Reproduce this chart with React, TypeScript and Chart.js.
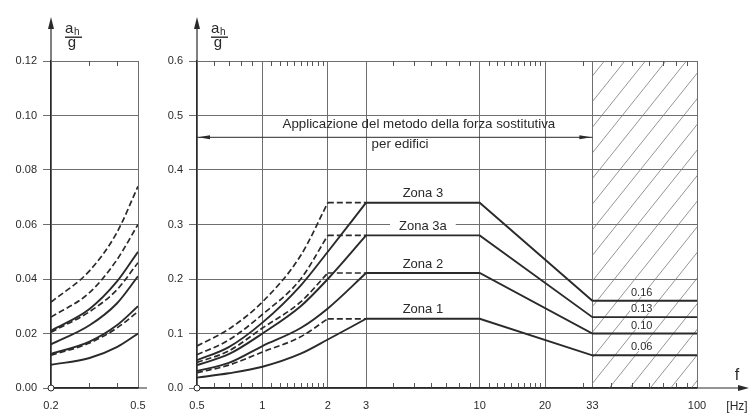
import React, { useEffect, useRef } from "react";
import { Chart, registerables } from "chart.js";
Chart.register(...registerables);

// ---------------- data ----------------
// left panel (0.2 – 0.5 Hz)
const LEFT_FREQ = [0.2, 0.3, 0.4, 0.5];
const LEFT_ZONA3_DASH = [0.0315, 0.043, 0.057, 0.074];
const LEFT_ZONA3A_DASH = [0.026, 0.035, 0.047, 0.06];
const LEFT_ZONA3_SOLID = [0.021, 0.029, 0.039, 0.05];
const LEFT_ZONA2_DASH = [0.0205, 0.028, 0.036, 0.046];
const LEFT_ZONA3A_SOLID = [0.016, 0.023, 0.031, 0.041];
const LEFT_ZONA2_SOLID = [0.0125, 0.017, 0.023, 0.03];
const LEFT_ZONA1_DASH = [0.012, 0.0165, 0.022, 0.028];
const LEFT_ZONA1_SOLID = [0.0085, 0.011, 0.015, 0.02];

// right panel (0.5 – 100 Hz)
const RISE_FREQ_SOLID = [0.5, 0.7, 1, 1.5, 2, 3];
const RISE_FREQ_DASH = [0.5, 0.7, 1, 1.5, 2];
const ZONA3_SOLID = [0.051, 0.075, 0.12, 0.188, 0.25, 0.34];
const ZONA3A_SOLID = [0.042, 0.062, 0.1, 0.15, 0.2, 0.28];
const ZONA2_SOLID = [0.031, 0.046, 0.077, 0.11, 0.146, 0.211];
const ZONA1_SOLID = [0.019, 0.027, 0.039, 0.063, 0.089, 0.127];
const ZONA3_DASH = [0.077, 0.108, 0.158, 0.243, 0.34];
const ZONA3A_DASH = [0.061, 0.088, 0.135, 0.2, 0.28];
const ZONA2_DASH = [0.047, 0.068, 0.11, 0.158, 0.211];
const ZONA1_DASH = [0.028, 0.042, 0.066, 0.094, 0.127];

const PLATEAU_FREQ = [3, 10, 33, 100];
const DASH_FLAT_FREQ = [2, 3];
const ZONE_NAMES = ["Zona 3", "Zona 3a", "Zona 2", "Zona 1"];
const ZONE_PLATEAU = [0.34, 0.28, 0.211, 0.127];
const ZONE_HIGH = [0.16, 0.13, 0.1, 0.06];
const ZONE_HIGH_LABELS = ["0.16", "0.13", "0.10", "0.06"];

// ticks
const LEFT_Y_TICKS = [0, 0.02, 0.04, 0.06, 0.08, 0.1, 0.12];
const RIGHT_Y_TICKS = [0, 0.1, 0.2, 0.3, 0.4, 0.5, 0.6];
const LEFT_X_TICKS = [0.2, 0.5];
const LEFT_X_MINOR = [0.3, 0.4];
const RIGHT_X_TICKS = [0.5, 1, 2, 3, 10, 20, 33, 100];
const RIGHT_X_MINOR = [
  0.6, 0.7, 0.8, 0.9, 1.1, 1.2, 1.3, 1.4, 1.5, 1.6, 1.7, 1.8, 1.9, 4, 5, 6, 7, 8, 9,
  11, 12, 13, 14, 15, 16, 17, 18, 19, 30, 40, 50, 60, 70, 80, 90,
];

// annotations
const HATCH_RANGE = [33, 100];
const METHOD_RANGE = [0.5, 33];
const METHOD_LEVEL = 0.46;
const METHOD_TEXT = "Applicazione del metodo della forza sostitutiva";
const METHOD_TEXT2 = "per edifici";
const METHOD_TEXT_POS = [5.25, 0.483];
const METHOD_TEXT2_POS = [4.3, 0.447];

// ---------------- styling ----------------
const INK = "#2a2a2a";
const GRID = "#6e6e6e";
const FONT = '"Liberation Sans", Arial, sans-serif';

const pts = (xs: number[], ys: number[]) => xs.map((x, i) => ({ x, y: ys[i] }));

function solid(data: any[], curve = true) {
  return {
    data,
    borderColor: INK,
    borderWidth: 1.9,
    pointRadius: 0,
    fill: false,
    tension: 0,
    cubicInterpolationMode: curve ? "monotone" : "default",
  };
}
function dashed(data: any[], curve = true) {
  return { ...solid(data, curve), borderDash: [6, 3], borderWidth: 1.7 };
}

function arrowHead(ctx: CanvasRenderingContext2D, x: number, y: number, dir: "up" | "left" | "right", len = 10, hw = 3) {
  ctx.beginPath();
  if (dir === "up") {
    ctx.moveTo(x, y);
    ctx.lineTo(x - hw, y + len);
    ctx.lineTo(x + hw, y + len);
  } else if (dir === "right") {
    ctx.moveTo(x, y);
    ctx.lineTo(x - len, y - hw);
    ctx.lineTo(x - len, y + hw);
  } else {
    ctx.moveTo(x, y);
    ctx.lineTo(x + len, y - hw);
    ctx.lineTo(x + len, y + hw);
  }
  ctx.closePath();
  ctx.fill();
}

function labelWithBg(ctx: CanvasRenderingContext2D, text: string, x: number, y: number, padX: number, h: number) {
  const w = ctx.measureText(text).width;
  ctx.fillStyle = "#ffffff";
  ctx.fillRect(x - w / 2 - padX, y - h / 2, w + padX * 2, h);
  ctx.fillStyle = INK;
  ctx.fillText(text, x, y);
}

function makeDecor(side: "left" | "right") {
  return {
    id: "decor-" + side,
    beforeDatasetsDraw(chart: any) {
      if (side !== "right") return;
      const ctx: CanvasRenderingContext2D = chart.ctx;
      const xs = chart.scales.x;
      const ys = chart.scales.y;
      const { top, bottom } = chart.chartArea;
      // hatch
      const x1 = xs.getPixelForValue(HATCH_RANGE[0]);
      const x2 = xs.getPixelForValue(HATCH_RANGE[1]);
      ctx.save();
      ctx.beginPath();
      ctx.rect(x1, top, x2 - x1, bottom - top);
      ctx.clip();
      ctx.strokeStyle = "#7a7a7a";
      ctx.lineWidth = 0.8;
      const slope = 1.25;
      const span = (bottom - top) / slope;
      ctx.beginPath();
      for (let x = x1 + 13 - span - 21 * 2; x < x2 + 30; x += 20.5) {
        ctx.moveTo(x, bottom);
        ctx.lineTo(x + span, top);
      }
      ctx.stroke();
      ctx.restore();

      // zone labels
      ctx.save();
      ctx.font = "13px " + FONT;
      ctx.textAlign = "center";
      ctx.textBaseline = "middle";
      const zx = (xs.getPixelForValue(PLATEAU_FREQ[0]) + xs.getPixelForValue(PLATEAU_FREQ[1])) / 2;
      ZONE_NAMES.forEach((n, i) => {
        const py = ys.getPixelForValue(ZONE_PLATEAU[i]);
        labelWithBg(ctx, n, zx, py - 9, 9, 8);
      });
      // high frequency values
      ctx.font = "11px " + FONT;
      const vx = (xs.getPixelForValue(PLATEAU_FREQ[2]) + xs.getPixelForValue(PLATEAU_FREQ[3])) / 2 - 3;
      ZONE_HIGH_LABELS.forEach((t, i) => {
        const py = ys.getPixelForValue(ZONE_HIGH[i]);
        labelWithBg(ctx, t, vx, py - 8, 1, 8);
      });
      // method text + double arrow
      ctx.font = "13.3px " + FONT;
      ctx.fillStyle = INK;
      ctx.fillText(METHOD_TEXT, xs.getPixelForValue(METHOD_TEXT_POS[0]), ys.getPixelForValue(METHOD_TEXT_POS[1]));
      ctx.fillText(METHOD_TEXT2, xs.getPixelForValue(METHOD_TEXT2_POS[0]), ys.getPixelForValue(METHOD_TEXT2_POS[1]));
      const ay = ys.getPixelForValue(METHOD_LEVEL);
      const ax1 = xs.getPixelForValue(METHOD_RANGE[0]);
      const ax2 = xs.getPixelForValue(METHOD_RANGE[1]);
      ctx.strokeStyle = INK;
      ctx.lineWidth = 1;
      ctx.beginPath();
      ctx.moveTo(ax1, ay);
      ctx.lineTo(ax2, ay);
      ctx.stroke();
      arrowHead(ctx, ax1 + 1, ay, "left", 12, 2);
      arrowHead(ctx, ax2 - 1, ay, "right", 12, 2);
      ctx.restore();
    },
    afterDraw(chart: any) {
      const ctx: CanvasRenderingContext2D = chart.ctx;
      const xs = chart.scales.x;
      const { left, right, top, bottom } = chart.chartArea;
      ctx.save();
      // minor ticks inside, top & bottom
      ctx.strokeStyle = "#555";
      ctx.lineWidth = 1;
      ctx.beginPath();
      const minors = side === "left" ? LEFT_X_MINOR : RIGHT_X_MINOR;
      minors.forEach((f) => {
        const x = Math.round(xs.getPixelForValue(f)) + 0.5;
        ctx.moveTo(x, top);
        ctx.lineTo(x, top + 5);
        ctx.moveTo(x, bottom);
        ctx.lineTo(x, bottom - 5);
      });
      ctx.stroke();

      // y axis extension + arrow
      ctx.strokeStyle = INK;
      ctx.fillStyle = INK;
      ctx.lineWidth = 1.2;
      ctx.beginPath();
      ctx.moveTo(left, top);
      ctx.lineTo(left, 26);
      ctx.stroke();
      arrowHead(ctx, left, 17, "up", 12, 3);

      // a_h / g
      ctx.textBaseline = "alphabetic";
      ctx.textAlign = "left";
      ctx.font = "15px " + FONT;
      ctx.fillText("a", left + 14, 33);
      ctx.font = "10px " + FONT;
      ctx.fillText("h", left + 23, 35);
      ctx.fillRect(left + 14, 36.5, 17, 1.4);
      ctx.font = "15px " + FONT;
      ctx.textAlign = "center";
      ctx.fillText("g", left + 21, 47);

      // x axis extension
      ctx.beginPath();
      ctx.moveTo(left, bottom);
      if (side === "left") {
        ctx.lineTo(right + 9, bottom);
        ctx.stroke();
      } else {
        ctx.lineTo(chart.width - 6, bottom);
        ctx.stroke();
        arrowHead(ctx, chart.width - 1, bottom, "right", 11, 3);
        ctx.font = "16px " + FONT;
        ctx.textAlign = "center";
        ctx.fillText("f", chart.width - 13, 380);
        ctx.font = "12px " + FONT;
        ctx.fillText("[Hz]", chart.width - 13, 410);
      }
      // origin circle
      ctx.beginPath();
      ctx.arc(left, bottom, 3, 0, Math.PI * 2);
      ctx.fillStyle = "#fff";
      ctx.fill();
      ctx.lineWidth = 1;
      ctx.strokeStyle = INK;
      ctx.stroke();
      ctx.restore();
    },
  };
}

function makeConfig(side: "left" | "right"): any {
  const isLeft = side === "left";
  const datasets = isLeft
    ? [
        dashed(pts(LEFT_FREQ, LEFT_ZONA3_DASH)),
        dashed(pts(LEFT_FREQ, LEFT_ZONA3A_DASH)),
        solid(pts(LEFT_FREQ, LEFT_ZONA3_SOLID)),
        dashed(pts(LEFT_FREQ, LEFT_ZONA2_DASH)),
        solid(pts(LEFT_FREQ, LEFT_ZONA3A_SOLID)),
        solid(pts(LEFT_FREQ, LEFT_ZONA2_SOLID)),
        dashed(pts(LEFT_FREQ, LEFT_ZONA1_DASH)),
        solid(pts(LEFT_FREQ, LEFT_ZONA1_SOLID)),
      ]
    : [
        ...[ZONA3_SOLID, ZONA3A_SOLID, ZONA2_SOLID, ZONA1_SOLID].map((s) => solid(pts(RISE_FREQ_SOLID, s))),
        ...[ZONA3_DASH, ZONA3A_DASH, ZONA2_DASH, ZONA1_DASH].map((s) => dashed(pts(RISE_FREQ_DASH, s))),
        ...ZONE_PLATEAU.map((p) => dashed(pts(DASH_FLAT_FREQ, [p, p]), false)),
        ...ZONE_PLATEAU.map((p, i) => solid(pts(PLATEAU_FREQ, [p, p, ZONE_HIGH[i], ZONE_HIGH[i]]), false)),
      ];
  const xTicks = isLeft ? LEFT_X_TICKS : RIGHT_X_TICKS;
  const yTicks = isLeft ? LEFT_Y_TICKS : RIGHT_Y_TICKS;
  return {
    type: "line",
    data: { datasets },
    plugins: [makeDecor(side)],
    options: {
      responsive: false,
      maintainAspectRatio: false,
      devicePixelRatio: 1,
      animation: false,
      events: [],
      layout: { padding: { top: 61, left: 0, bottom: 0, right: isLeft ? 12 : 53 } },
      plugins: { legend: { display: false }, tooltip: { enabled: false } },
      scales: {
        x: {
          type: "logarithmic",
          min: isLeft ? 0.2 : 0.5,
          max: isLeft ? 0.5 : 100,
          afterBuildTicks: (s: any) => {
            s.ticks = xTicks.map((v) => ({ value: v }));
          },
          afterFit: (s: any) => {
            s.height = 26;
          },
          ticks: {
            autoSkip: false,
            maxRotation: 0,
            padding: 0,
            color: INK,
            font: { family: FONT, size: 11 },
            callback: (v: any) => String(v),
          },
          grid: { color: GRID, lineWidth: 1, drawTicks: true, tickLength: 11, tickColor: "rgba(0,0,0,0)" },
          border: { display: true, color: INK, width: 1.2 },
        },
        y: {
          type: "linear",
          min: 0,
          max: isLeft ? 0.12 : 0.6,
          afterBuildTicks: (s: any) => {
            s.ticks = yTicks.map((v) => ({ value: v }));
          },
          afterFit: (s: any) => {
            s.width = isLeft ? 51 : 47;
          },
          ticks: {
            padding: 6,
            color: INK,
            font: { family: FONT, size: 11 },
            callback: (v: any) => Number(v).toFixed(isLeft ? 2 : 1),
          },
          grid: { color: GRID, lineWidth: 1, drawTicks: true, tickLength: 8 },
          border: { display: true, color: INK, width: 1.2 },
        },
      },
    },
  };
}

export default function App() {
  const leftRef = useRef<HTMLCanvasElement>(null);
  const rightRef = useRef<HTMLCanvasElement>(null);
  useEffect(() => {
    const l = new Chart(leftRef.current as HTMLCanvasElement, makeConfig("left"));
    const r = new Chart(rightRef.current as HTMLCanvasElement, makeConfig("right"));
    return () => {
      l.destroy();
      r.destroy();
    };
  }, []);
  return (
    <div style={{ position: "fixed", left: 0, top: 0, width: 750, height: 414, background: "#fff" }}>
      <canvas
        ref={leftRef}
        width={150}
        height={414}
        style={{ position: "absolute", left: 0, top: 0, width: 150, height: 414 }}
      />
      <canvas
        ref={rightRef}
        width={600}
        height={414}
        style={{ position: "absolute", left: 150, top: 0, width: 600, height: 414 }}
      />
    </div>
  );
}
